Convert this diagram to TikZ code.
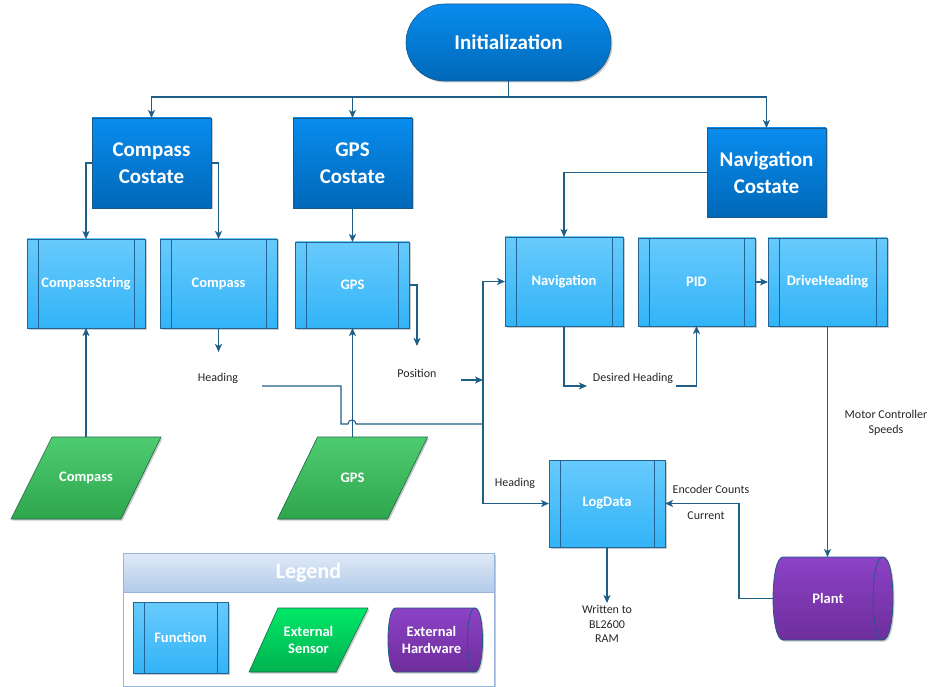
\documentclass[tikz,border=0pt]{standalone}
\usepackage{fontspec}
\setmainfont{Carlito}
\usetikzlibrary{shapes.geometric,shapes.misc,shadows,arrows.meta,calc}
\definecolor{linec}{RGB}{31,94,135}
\definecolor{costop}{RGB}{8,140,238}
\definecolor{cosbot}{RGB}{0,104,184}
\definecolor{cosdraw}{RGB}{24,90,140}
\definecolor{fntop}{RGB}{104,202,252}
\definecolor{fnbot}{RGB}{50,180,248}
\definecolor{fndraw}{RGB}{34,100,150}
\definecolor{sentop}{RGB}{78,204,112}
\definecolor{senbot}{RGB}{46,166,78}
\definecolor{sendraw}{RGB}{30,100,70}
\definecolor{hwtop}{RGB}{140,66,198}
\definecolor{hwbot}{RGB}{110,46,156}
\definecolor{hwdraw}{RGB}{30,90,130}
\definecolor{lgtop}{RGB}{224,234,246}
\definecolor{lgbot}{RGB}{178,203,234}
\definecolor{lgdraw}{RGB}{150,180,220}
\definecolor{lstop}{RGB}{0,232,104}
\definecolor{lsbot}{RGB}{0,178,80}
\definecolor{txt}{RGB}{38,38,38}
\pgfdeclarelayer{bg}
\pgfsetlayers{bg,main}
% #1 node, #2 bulge, #3 bulge/3, #4 4*bulge/3
\newcommand{\drawhw}[4]{%
  \path[hwshape] ([xshift=#2]#1.north west)
    .. controls ([xshift=-#3]#1.north west) and ([xshift=-#3]#1.south west) .. ([xshift=#2]#1.south west)
    -- (#1.south east)
    .. controls ([xshift=#4]#1.south east) and ([xshift=#4]#1.north east) .. (#1.north east) -- cycle;
  \draw[hwdraw, line width=0.8pt] (#1.north east)
    .. controls ([xshift=-#4]#1.north east) and ([xshift=-#4]#1.south east) .. (#1.south east);}
\begin{document}
\begin{tikzpicture}[x=1pt,y=-1pt,
  shd/.style={drop shadow={shadow xshift=1.5pt,shadow yshift=-1.5pt,opacity=0.35,fill=black!60}},
  costate/.style={rectangle, draw=cosdraw, line width=0.6pt, top color=costop, bottom color=cosbot,
    text=white, font=\fontsize{21}{27}\selectfont\bfseries, align=center, inner sep=0pt, outer sep=0pt, shd},
  funcbox/.style={rectangle, draw=fndraw, line width=0.8pt, top color=fntop, bottom color=fnbot,
    text=white, font=\fontsize{14.5}{17}\selectfont\bfseries, align=center, inner sep=0pt, outer sep=0pt, shd,
    path picture={\draw[fndraw, line width=0.8pt]
      ([xshift=#1]path picture bounding box.north west) -- ([xshift=#1]path picture bounding box.south west)
      ([xshift=-#1]path picture bounding box.north east) -- ([xshift=-#1]path picture bounding box.south east);}},
  funcbox/.default=11pt,
  sensorshape/.style={draw=sendraw, line width=0.6pt, top color=sentop, bottom color=senbot, shd},
  sensortext/.style={rectangle, inner sep=0pt, outer sep=0pt, text=white, font=\fontsize{14.5}{17}\selectfont\bfseries, align=center},
  hwshape/.style={draw=hwdraw, line width=0.8pt, top color=hwtop, bottom color=hwbot, shd},
  hwtext/.style={rectangle, inner sep=0pt, outer sep=0pt, text=white, font=\fontsize{14.5}{17}\selectfont\bfseries, align=center},
  arr/.style={draw=linec, line width=1.1pt, -{Stealth[length=8pt,width=7pt,inset=2pt]}},
  conn/.style={draw=linec, line width=1.1pt},
  lbl/.style={text=txt, font=\fontsize{12}{14.5}\selectfont, align=center, inner sep=1pt},
]
\useasboundingbox (0,0) rectangle (929,687);

% start
\node[rounded rectangle, draw=cosdraw, line width=0.6pt, top color=costop, bottom color=cosbot,
  text=white, font=\fontsize{21}{25}\selectfont\bfseries, minimum width=205pt, minimum height=77pt,
  inner sep=0pt, outer sep=0pt, shd] (init) at (508.5,42.5) {Initialization};

% costates
\node[costate, minimum width=119pt, minimum height=90pt] (cc) at (151.5,163) {Compass\\Costate};
\node[costate, minimum width=119pt, minimum height=90pt] (gc) at (352.5,163) {GPS\\Costate};
\node[costate, minimum width=119pt, minimum height=89pt] (nc) at (766.5,172.5) {Navigation\\Costate};

% functions
\node[funcbox, minimum width=118pt, minimum height=89pt] (fcs) at (86,283.5) {CompassString};
\node[funcbox, minimum width=117pt, minimum height=89pt] (fc) at (218.5,283.5) {Compass};
\node[funcbox, minimum width=114pt, minimum height=86pt] (fg) at (352.5,285) {GPS};
\node[funcbox, minimum width=118pt, minimum height=89pt] (fn) at (564,281.5) {Navigation};
\node[funcbox, minimum width=117pt, minimum height=88pt] (fp) at (696.5,282) {PID};
\node[funcbox, minimum width=119pt, minimum height=88pt] (fd) at (827.5,282) {DriveHeading};
\node[funcbox, minimum width=116pt, minimum height=87pt] (fl) at (607,503.5) {LogData};

% sensors
\path[sensorshape] (52,437) -- (161,437) -- (121,519) -- (11,519) -- cycle;
\node[sensortext, minimum width=150pt, minimum height=82pt] (scomp) at (86,478) {Compass};
\path[sensorshape] (317.5,437) -- (427.5,437) -- (387.5,519) -- (277.5,519) -- cycle;
\node[sensortext, minimum width=150pt, minimum height=82pt] (sgps) at (352.5,478) {GPS};

% hardware
\node[hwtext, minimum width=110pt, minimum height=83pt] (plant) at (828,598.5) {Plant};
\begin{pgfonlayer}{bg}
  \drawhw{plant}{10pt}{3.3pt}{13.3pt}
\end{pgfonlayer}

% labels
\node[lbl] (hd1) at (218,378) {Heading};
\node[lbl] (pos) at (417,373) {Position};
\node[lbl] (dh) at (633,378) {Desired Heading};
\node[lbl] (mcs) at (886,423) {Motor Controller\\Speeds};
\node[lbl] (hd2) at (515,483) {Heading};
\node[lbl] (enc) at (711,489) {Encoder Counts};
\node[lbl] (cur) at (706,516) {Current};
\node[lbl] (wr) at (607,624) {Written to\\BL2600\\RAM};

% coordinates
\coordinate (bus) at (508.5,97);
\coordinate (hd1in) at (218.5,352);
\coordinate (hd1out) at (262,386);
\coordinate (posin) at (417,346);
\coordinate (posout) at (461,380);
\coordinate (vb) at (483,424);
\coordinate (dhin) at (587,386);
\coordinate (dhout) at (676,386);
\coordinate (pl1) at (739,598.5);
\coordinate (wrin) at (607,603);

% connectors
\draw[conn] (init.south) -- (bus);
\draw[arr] (bus) -| (cc.north);
\draw[arr] (bus) -| (gc.north);
\draw[arr] (bus) -| (nc.north);
\draw[arr] (cc.west) -| (fcs.north);
\draw[arr] (cc.east) -| (fc.north);
\draw[arr] (gc.south) -- (fg.north);
\draw[arr] (nc.west) -| (fn.north);
\draw[arr] (fp.east) -- (fd.west);
\draw[arr] (scomp.north) -- (fcs.south);
\draw[arr] (sgps.north) -- (fg.south);
\draw[arr] (fc.south) -- (hd1in);
\draw[conn] (hd1out) -- (341,386) -- (341,424) -- (348,424)
  .. controls (348,418.7) and (356,418.7) .. (356,424) -- (vb);
\draw[arr] (vb) |- (fn.west);
\draw[arr] (vb) |- (fl.west);
\draw[arr] (fg.east) -| (posin);
\draw[arr] (posout) -- (posout -| vb);
\draw[arr] (fn.south) |- (dhin);
\draw[arr] (dhout) -| (fp.south);
\draw[arr] (fd.south) -- (fd.south |- plant.north);
\draw[arr] (plant.west) -- (pl1) |- (fl.east);
\draw[arr] (fl.south) -- (wrin);

% legend
\begin{pgfonlayer}{bg}
\node[rectangle, draw=lgdraw, line width=0.8pt, fill=white, minimum width=371pt, minimum height=133pt,
  inner sep=0pt, outer sep=0pt, shd] (leg) at (308.5,619.5) {};
\end{pgfonlayer}
\node[rectangle, draw=lgdraw, line width=0.8pt, top color=lgtop, bottom color=lgbot, text=white,
  font=\fontsize{22}{26}\selectfont\bfseries, minimum width=371pt, minimum height=39pt,
  inner sep=0pt, outer sep=0pt] (legh) at (308.5,572.5) {Legend};
\node[funcbox, minimum width=95pt, minimum height=71pt] (lfunc) at (180.5,637.5) {Function};
\path[draw=sendraw, line width=0.6pt, top color=lstop, bottom color=lsbot, shd]
  (278,608) -- (368,608) -- (336,672) -- (249,672) -- cycle;
\node[sensortext] (lsens) at (308.5,640) {External\\Sensor};
\node[hwtext, minimum width=87pt, minimum height=64pt] (lhw) at (431.5,640) {External\\Hardware};
\begin{pgfonlayer}{bg}
  \drawhw{lhw}{7.5pt}{2.5pt}{10pt}
\end{pgfonlayer}
\end{tikzpicture}
\end{document}
